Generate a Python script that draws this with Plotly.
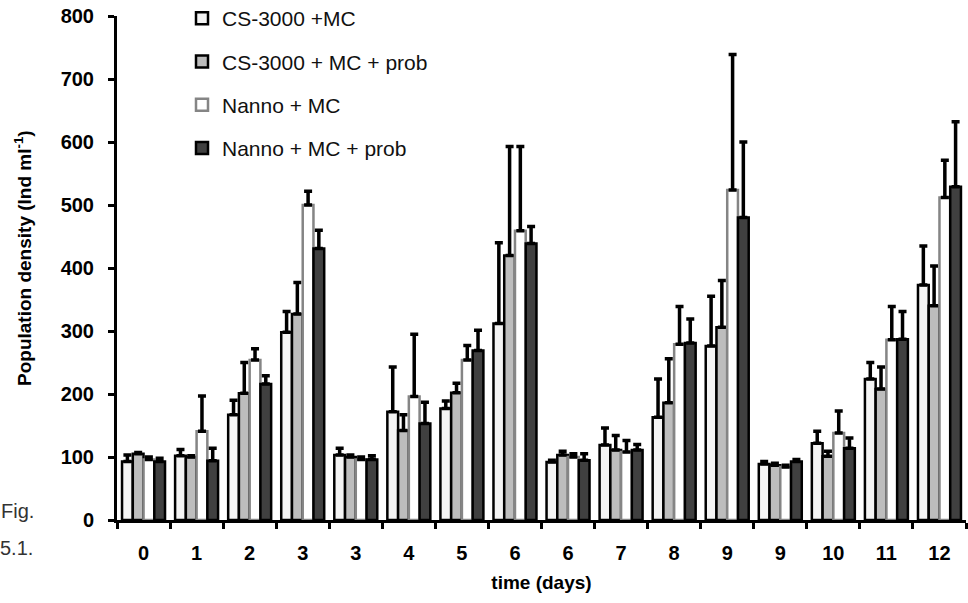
import plotly.graph_objects as go

days = ["0", "1", "2", "3", "3", "4", "5", "6", "6", "7", "8", "9", "9", "10", "11", "12"]

cs_mc = [93, 102, 167, 298, 103, 172, 177, 312, 92, 119, 163, 276, 89, 122, 224, 373]
cs_mc_err = [10, 10, 23, 33, 11, 71, 12, 128, 3, 27, 61, 79, 4, 19, 26, 62]

cs_mc_prob = [105, 100, 201, 327, 100, 142, 202, 420, 103, 111, 186, 306, 87, 101, 208, 340]
cs_mc_prob_err = [2, 2, 49, 50, 3, 25, 15, 173, 6, 23, 70, 74, 3, 8, 35, 63]

nanno_mc = [96, 141, 254, 500, 96, 196, 254, 459, 100, 108, 279, 524, 84, 138, 286, 512]
nanno_mc_err = [4, 56, 18, 22, 4, 99, 23, 134, 5, 18, 60, 215, 3, 35, 53, 59]

nanno_mc_prob = [93, 94, 216, 431, 96, 153, 269, 439, 95, 111, 281, 480, 93, 114, 287, 529]
nanno_mc_prob_err = [5, 20, 13, 29, 6, 34, 32, 27, 10, 9, 38, 120, 3, 16, 44, 103]

names = ["CS-3000 +MC", "CS-3000 + MC + prob", "Nanno + MC", "Nanno + MC + prob"]
fills = ["#f4f4f4", "#bdbdbd", "#ffffff", "#404040"]
lines = ["#000000", "#000000", "#858585", "#000000"]
values = [cs_mc, cs_mc_prob, nanno_mc, nanno_mc_prob]
errors = [cs_mc_err, cs_mc_prob_err, nanno_mc_err, nanno_mc_prob_err]

FONT = "Liberation Sans, Arial, sans-serif"
xs = list(range(len(days)))

fig = go.Figure()
for i in range(4):
    fig.add_trace(go.Bar(
        x=xs, y=values[i], name=names[i], legendgroup=names[i],
        marker=dict(color=fills[i], line=dict(color=lines[i], width=2.5)),
        error_y=dict(type="data", array=errors[i], arrayminus=[0] * len(days),
                     symmetric=False, color="#000000", thickness=3.5, width=4),
    ))

W, H = 968, 603
ml, mr, mt, mb = 117, 2, 16, 83
pw = W - ml - mr
ph = H - mt - mb

fig.update_layout(
    width=W, height=H,
    margin=dict(l=ml, r=mr, t=mt, b=mb, autoexpand=False),
    paper_bgcolor="white", plot_bgcolor="white",
    barmode="group", bargap=0.19, bargroupgap=0,
    font=dict(family=FONT, color="#000000"),
    showlegend=True,
    legend=dict(x=(182 - ml) / pw, y=(520 + 2) / ph, xanchor="left", yanchor="top",
                font=dict(size=21, family=FONT, color="#111111"),
                tracegroupgap=13, bgcolor="rgba(0,0,0,0)", traceorder="grouped",
                itemwidth=30),
    xaxis=dict(
        range=[-0.5, len(days) - 0.5],
        tickmode="array", tickvals=xs, ticktext=days, ticks="",
        tickfont=dict(size=20, family=FONT, color="#000000", weight="bold"),
        ticklabelstandoff=13,
        showline=True, linecolor="#000000", linewidth=3, showgrid=False, zeroline=False,
        minor=dict(tickmode="array", tickvals=[v - 0.5 for v in xs] + [len(days) - 0.5],
                   ticks="outside", ticklen=6, tickwidth=3, tickcolor="#000000", showgrid=False),
        title=dict(text="time (days)", font=dict(size=19, family=FONT, weight="bold"), standoff=13),
    ),
    yaxis=dict(
        range=[0, 800], tickmode="array", tickvals=[0, 100, 200, 300, 400, 500, 600, 700, 800],
        ticks="outside", ticklen=6, tickwidth=3, tickcolor="#000000",
        tickfont=dict(size=20, family=FONT, color="#000000", weight="bold"),
        ticklabelstandoff=10,
        showline=True, linecolor="#000000", linewidth=3, showgrid=False, zeroline=False,
    ),
    annotations=[
        dict(text="Population density (Ind ml<sup>-1</sup>)", textangle=-90,
             xref="paper", yref="paper", x=(23 - ml) / pw, y=(520 - 258) / ph,
             xanchor="center", yanchor="middle",
             showarrow=False, font=dict(size=19, family=FONT, weight="bold")),
        dict(text="Fig.", xref="paper", yref="paper", x=(36 - ml) / pw, y=(520 - 511) / ph,
             xanchor="right", yanchor="middle", showarrow=False,
             font=dict(size=20, family=FONT, color="#333333")),
        dict(text="5.1.", xref="paper", yref="paper", x=(35 - ml) / pw, y=(520 - 548) / ph,
             xanchor="right", yanchor="middle", showarrow=False,
             font=dict(size=20, family=FONT, color="#333333")),
    ],
)

fig.write_html("out.html", config={"displayModeBar": False},
               post_script="document.body.style.margin='0px';")
